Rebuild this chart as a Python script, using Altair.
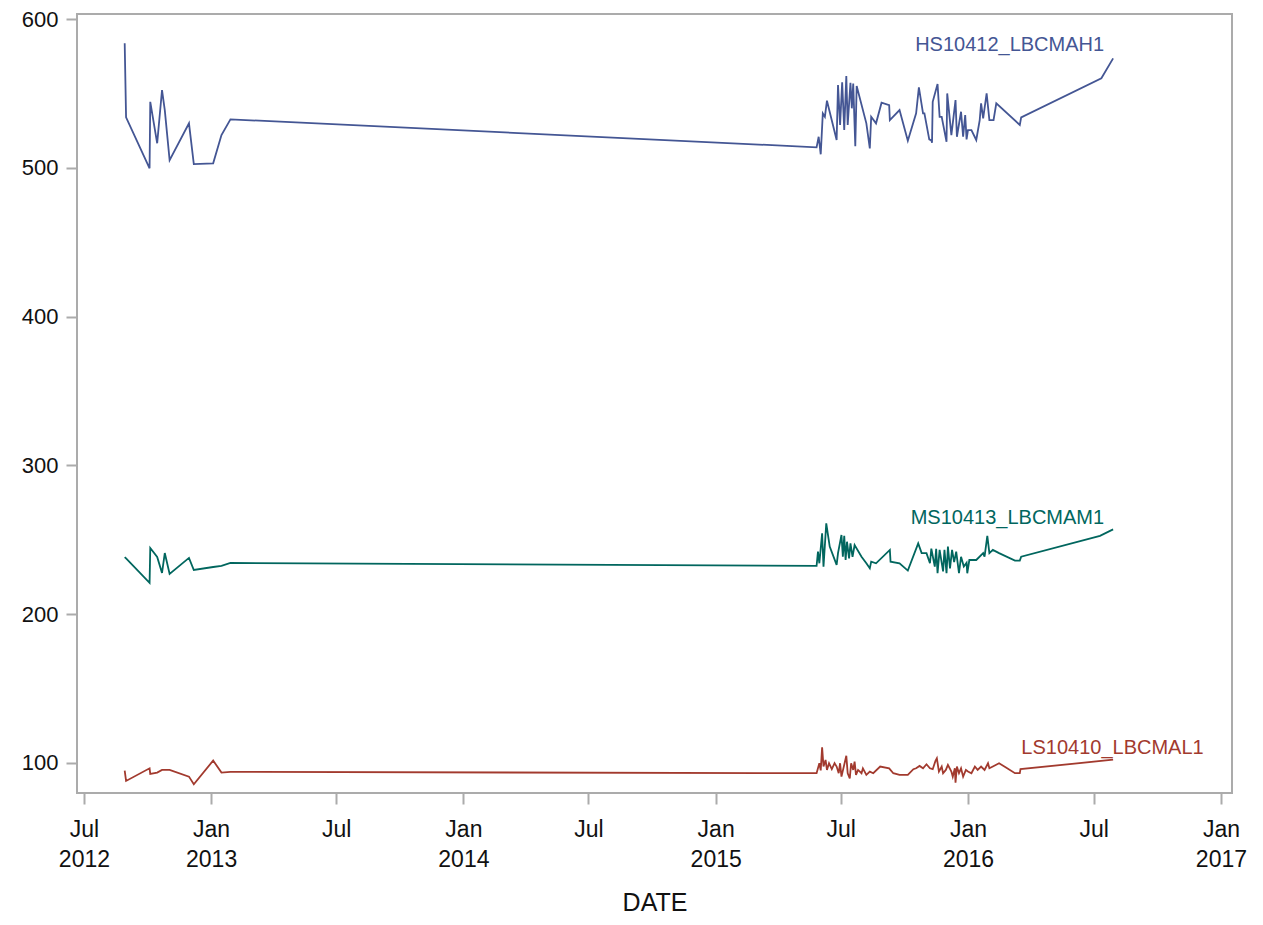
import altair as alt
import pandas as pd

# ---- data ----
hs_dates = ["2012-08-29", "2012-08-31", "2012-10-04", "2012-10-05", "2012-10-15", "2012-10-22",
            "2012-10-26", "2012-11-02", "2012-11-30", "2012-12-07", "2013-01-04", "2013-01-16",
            "2013-01-29", "2015-05-27", "2015-05-30", "2015-06-02", "2015-06-05", "2015-06-08",
            "2015-06-11", "2015-06-25", "2015-06-27", "2015-06-30", "2015-07-03", "2015-07-06",
            "2015-07-09", "2015-07-11", "2015-07-15", "2015-07-17", "2015-07-19", "2015-07-22",
            "2015-07-24", "2015-08-07", "2015-08-12", "2015-08-14", "2015-08-21", "2015-08-29",
            "2015-09-09", "2015-09-10", "2015-09-24", "2015-10-06", "2015-10-18", "2015-10-22",
            "2015-10-28", "2015-10-30", "2015-11-06", "2015-11-09", "2015-11-10", "2015-11-11",
            "2015-11-18", "2015-11-21", "2015-11-24", "2015-12-01", "2015-12-02", "2015-12-08",
            "2015-12-14", "2015-12-16", "2015-12-22", "2015-12-25", "2015-12-28", "2015-12-30",
            "2016-01-01", "2016-01-06", "2016-01-13", "2016-01-18", "2016-01-20", "2016-01-23",
            "2016-01-28", "2016-01-30", "2016-02-01", "2016-02-07", "2016-02-11", "2016-03-16",
            "2016-03-18", "2016-07-12", "2016-07-29"]
hs_values = [583.7, 533.9, 499.7, 544.4, 516.5, 552.3,
             538.8, 505.2, 529.9, 502.5, 503.0, 522.0,
             532.6, 513.8, 520.9, 509.1, 536.6, 534.3,
             545.1, 518.7, 555.6, 528.8, 557.5, 525.4,
             561.7, 528.8, 557.2, 540.0, 556.7, 514.6,
             555.0, 529.9, 513.1, 534.3, 529.9, 543.8,
             542.2, 532.1, 538.8, 518.2, 536.6, 554.1,
             536.6, 536.6, 519.1, 518.5, 516.9, 544.4,
             556.3, 534.3, 534.3, 517.5, 550.0, 522.0,
             545.5, 520.9, 537.7, 520.9, 535.5, 519.1,
             525.4, 525.4, 518.7, 532.1, 543.4, 533.3,
             550.0, 541.1, 532.1, 532.1, 543.4, 528.8,
             533.9, 560.2, 573.6]

ms_dates = ["2012-08-29", "2012-08-31", "2012-10-04", "2012-10-05", "2012-10-15", "2012-10-22",
            "2012-10-26", "2012-11-02", "2012-11-30", "2012-12-07", "2013-01-04", "2013-01-16",
            "2013-01-29", "2015-05-27", "2015-05-29", "2015-05-31", "2015-06-04", "2015-06-06",
            "2015-06-10", "2015-06-15", "2015-06-25", "2015-06-27", "2015-07-02", "2015-07-04",
            "2015-07-06", "2015-07-08", "2015-07-10", "2015-07-13", "2015-07-15", "2015-07-18",
            "2015-07-21", "2015-07-31", "2015-08-07", "2015-08-12", "2015-08-14", "2015-08-21",
            "2015-09-10", "2015-09-11", "2015-09-24", "2015-10-06", "2015-10-21", "2015-10-26",
            "2015-11-02", "2015-11-07", "2015-11-09", "2015-11-14", "2015-11-16", "2015-11-18",
            "2015-11-21", "2015-11-26", "2015-11-28", "2015-12-01", "2015-12-03", "2015-12-06",
            "2015-12-09", "2015-12-12", "2015-12-15", "2015-12-19", "2015-12-22", "2015-12-26",
            "2015-12-30", "2015-12-31", "2016-01-03", "2016-01-13", "2016-01-23", "2016-01-25",
            "2016-01-29", "2016-02-01", "2016-02-06", "2016-02-15", "2016-03-09", "2016-03-16",
            "2016-03-18", "2016-07-10", "2016-07-29"]
ms_values = [238.4, 237.5, 221.0, 244.5, 238.5, 227.7,
             241.1, 227.0, 237.8, 229.7, 231.7, 232.4,
             234.4, 232.4, 242.0, 234.2, 254.4, 231.9,
             261.0, 245.4, 233.1, 241.0, 253.2, 238.6,
             252.6, 236.4, 248.7, 237.5, 247.6, 238.6,
             246.5, 238.6, 234.2, 230.8, 235.3, 234.2,
             243.2, 235.3, 234.2, 229.3, 247.6, 241.0,
             241.0, 234.2, 244.0, 232.0, 244.0, 227.5,
             243.2, 228.7, 243.2, 227.5, 245.4, 230.8,
             243.2, 235.0, 242.0, 227.5, 238.6, 232.0,
             234.5, 227.5, 236.4, 236.4, 241.0, 238.6,
             252.6, 241.0, 243.2, 241.0, 236.0, 236.0,
             238.6, 252.6, 257.0]

ls_dates = ["2012-08-29", "2012-08-31", "2012-10-04", "2012-10-05", "2012-10-15", "2012-10-22",
            "2012-10-26", "2012-11-02", "2012-11-30", "2012-12-07", "2013-01-04", "2013-01-16",
            "2013-01-29", "2015-05-27", "2015-05-31", "2015-06-02", "2015-06-04", "2015-06-06",
            "2015-06-09", "2015-06-11", "2015-06-14", "2015-06-18", "2015-06-22", "2015-06-25",
            "2015-06-28", "2015-06-30", "2015-07-02", "2015-07-09", "2015-07-11", "2015-07-14",
            "2015-07-16", "2015-07-19", "2015-07-21", "2015-07-23", "2015-07-26", "2015-07-31",
            "2015-08-02", "2015-08-07", "2015-08-12", "2015-08-17", "2015-08-27", "2015-09-09",
            "2015-09-15", "2015-09-24", "2015-10-06", "2015-10-14", "2015-10-18", "2015-10-23",
            "2015-10-28", "2015-11-02", "2015-11-07", "2015-11-11", "2015-11-15", "2015-11-17",
            "2015-11-20", "2015-11-24", "2015-11-26", "2015-11-30", "2015-12-03", "2015-12-08",
            "2015-12-10", "2015-12-13", "2015-12-14", "2015-12-16", "2015-12-19", "2015-12-22",
            "2015-12-25", "2015-12-29", "2016-01-01", "2016-01-06", "2016-01-11", "2016-01-15",
            "2016-01-20", "2016-01-25", "2016-01-30", "2016-02-01", "2016-02-06", "2016-02-15",
            "2016-02-25", "2016-03-09", "2016-03-16", "2016-03-17", "2016-07-29"]
ls_values = [94.8, 87.9, 96.4, 92.6, 93.5, 95.3,
             95.3, 95.3, 90.8, 85.7, 101.6, 93.5,
             94.0, 93.1, 99.8, 95.0, 110.5, 97.6,
             102.0, 95.3, 99.8, 95.8, 99.8, 97.6,
             93.1, 99.8, 90.8, 104.8, 93.1, 89.6,
             99.8, 95.3, 100.9, 92.0, 95.3, 93.1,
             96.4, 92.0, 94.2, 93.1, 97.6, 96.4,
             93.1, 92.0, 92.0, 95.8, 96.4, 98.0,
             96.4, 99.1, 96.4, 95.8, 101.4, 103.1,
             94.2, 97.6, 93.1, 95.3, 98.7, 94.2,
             90.8, 96.4, 86.8, 97.6, 93.1, 96.4,
             90.8, 95.3, 94.2, 93.1, 97.6, 95.3,
             97.6, 95.3, 99.8, 96.4, 97.6, 99.8,
             97.0, 93.1, 93.1, 95.8, 102.2]

series_names = ["HS10412_LBCMAH1", "MS10413_LBCMAM1", "LS10410_LBCMAL1"]
series_colors = ["#445694", "#01665E", "#A23A2E"]
label_dates = ["2016-07-16", "2016-07-16", "2016-12-07"]
label_values = [582.5, 264.7, 110.1]

y_ticks = [100, 200, 300, 400, 500, 600]
x_tick_months = [(2012, 7), (2013, 1), (2013, 7), (2014, 1), (2014, 7), (2015, 1),
                 (2015, 7), (2016, 1), (2016, 7), (2017, 1)]

# ---- build tables ----
rows = []
for name, ds, vs in zip(series_names, [hs_dates, ms_dates, ls_dates],
                        [hs_values, ms_values, ls_values]):
    for d, v in zip(ds, vs):
        rows.append({"series": name, "date": d, "value": v})
df = pd.DataFrame(rows)
labels_df = pd.DataFrame({"series": series_names, "date": label_dates, "value": label_values})

FONT = "Liberation Sans"
GRAY = "#ABABAB"

x_scale = alt.Scale(type="utc",
                    domain=[alt.DateTime(year=2012, month=6, date=21, utc=True),
                            alt.DateTime(year=2017, month=1, date=17, utc=True)])
y_scale = alt.Scale(domain=[79.8, 603.4], nice=False, zero=False)
color_scale = alt.Scale(domain=series_names, range=series_colors)

x_axis = alt.Axis(
    title="DATE",
    values=[alt.DateTime(year=y, month=m, date=1, utc=True) for y, m in x_tick_months],
    labelExpr=("datum.index == 0 || utcFormat(datum.value, '%m') == '01' ? "
               "[utcFormat(datum.value, '%b'), utcFormat(datum.value, '%Y')] : "
               "utcFormat(datum.value, '%b')"),
    labelLineHeight=30, labelPadding=14, titlePadding=19, grid=False,
    labelFontSize=23,
)
y_axis = alt.Axis(title=None, values=y_ticks, grid=False, labelPadding=8, labelFontSize=22)

lines = alt.Chart(df).mark_line(strokeWidth=1.8).encode(
    x=alt.X("date:T", scale=x_scale, axis=x_axis),
    y=alt.Y("value:Q", scale=y_scale, axis=y_axis),
    color=alt.Color("series:N", scale=color_scale, legend=None),
    detail="series:N",
)

texts = alt.Chart(labels_df).mark_text(
    align="right", baseline="middle", font=FONT, fontSize=20
).encode(
    x=alt.X("date:T", scale=x_scale),
    y=alt.Y("value:Q", scale=y_scale),
    text="series:N",
    color=alt.Color("series:N", scale=color_scale, legend=None),
)

chart = alt.layer(lines, texts).properties(
    width=1155, height=779,
    autosize=alt.AutoSizeParams(type="none"),
    padding={"left": 69, "top": 6, "right": 23, "bottom": 124},
).configure_view(
    stroke=GRAY, strokeWidth=2
).configure_axis(
    domain=False, tickColor=GRAY, tickWidth=2, tickSize=11,
    labelFont=FONT, labelColor="#111111",
    titleFont=FONT, titleFontSize=25, titleFontWeight="normal", titleColor="#111111",
)

chart.save("out.html", embed_options={"renderer": "svg", "actions": False})
